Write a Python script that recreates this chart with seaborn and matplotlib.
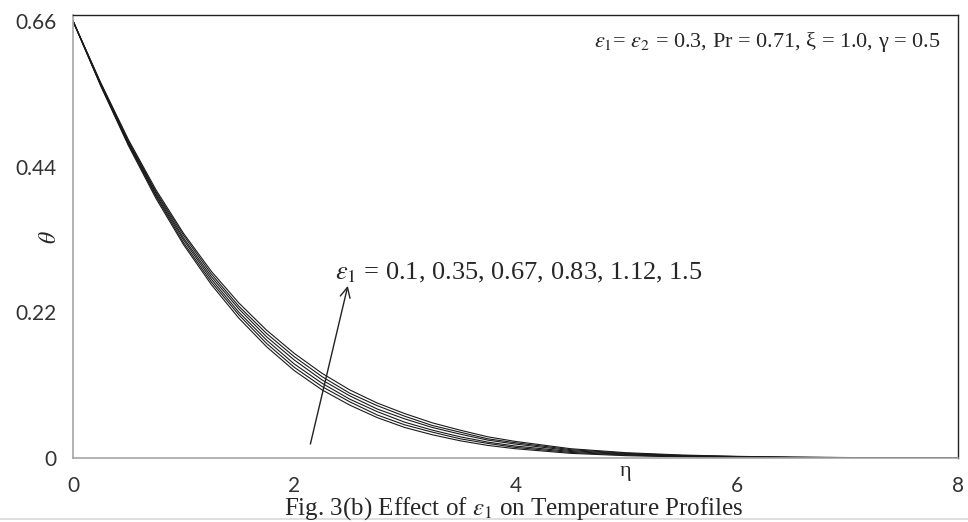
import numpy as np
import pandas as pd
import matplotlib
matplotlib.use("Agg")
import matplotlib.pyplot as plt
import seaborn as sns

# eta grid and temperature profiles
eta = [0, 0.25, 0.5, 0.75, 1.0, 1.25, 1.5, 1.75, 2.0, 2.25, 2.5, 2.75, 3.0,
       3.25, 3.5, 3.75, 4.0, 4.5, 5.0, 5.5, 6.0, 6.5, 7.0, 7.5, 8.0]

eps1_labels = ["0.1", "0.35", "0.67", "0.83", "1.12", "1.5"]

theta_010 = [0.660, 0.562, 0.472, 0.392, 0.322, 0.262, 0.211, 0.168, 0.132, 0.103, 0.080, 0.061, 0.046,
             0.035, 0.026, 0.019, 0.014, 0.0070, 0.0035, 0.0017, 0.0008, 0.0004, 0.0002, 0.0001, 0.0]
theta_035 = [0.660, 0.563, 0.474, 0.395, 0.325, 0.266, 0.216, 0.173, 0.137, 0.108, 0.085, 0.065, 0.050,
             0.039, 0.029, 0.022, 0.016, 0.0084, 0.0044, 0.0023, 0.0011, 0.0006, 0.0003, 0.0001, 0.0]
theta_067 = [0.660, 0.564, 0.476, 0.397, 0.329, 0.270, 0.220, 0.178, 0.142, 0.113, 0.089, 0.070, 0.054,
             0.042, 0.032, 0.024, 0.018, 0.0098, 0.0053, 0.0028, 0.0015, 0.0008, 0.0004, 0.0002, 0.0]
theta_083 = [0.660, 0.565, 0.477, 0.400, 0.332, 0.274, 0.225, 0.183, 0.148, 0.118, 0.094, 0.074, 0.059,
             0.046, 0.036, 0.027, 0.021, 0.0112, 0.0062, 0.0034, 0.0018, 0.0009, 0.0005, 0.0002, 0.0001]
theta_112 = [0.660, 0.566, 0.479, 0.402, 0.336, 0.278, 0.229, 0.188, 0.153, 0.123, 0.098, 0.079, 0.063,
             0.049, 0.039, 0.029, 0.023, 0.0126, 0.0071, 0.0039, 0.0022, 0.0011, 0.0006, 0.0003, 0.0001]
theta_150 = [0.660, 0.567, 0.481, 0.405, 0.339, 0.282, 0.234, 0.193, 0.158, 0.128, 0.103, 0.083, 0.067,
             0.053, 0.042, 0.032, 0.025, 0.0140, 0.0080, 0.0045, 0.0025, 0.0013, 0.0007, 0.0003, 0.0001]

series = [theta_010, theta_035, theta_067, theta_083, theta_112, theta_150]

rows = []
for lab, vals in zip(eps1_labels, series):
    for e, t in zip(eta, vals):
        rows.append({"eta": e, "theta": t, "eps1": lab})
df = pd.DataFrame(rows)

sns.set_theme(style="white")
plt.rcParams["mathtext.fontset"] = "stix"
plt.rcParams["font.family"] = ["Lato", "DejaVu Sans"]

fig = plt.figure(figsize=(9.68, 5.22), dpi=100)
ax = fig.add_axes([73 / 968, 1 - 458 / 522, 885 / 968, 443 / 522])

sns.lineplot(data=df, x="eta", y="theta", hue="eps1", units="eps1", estimator=None,
             palette=["#1a1a1a"] * 6, linewidth=0.8, legend=False, ax=ax)

ax.set_xlim(0, 8)
ax.set_ylim(0, 0.669)
ax.set_xticks([0, 2, 4, 6, 8])
ax.set_xticklabels(["0", "2", "4", "6", "8"])
ax.set_yticks([0, 0.22, 0.44, 0.66])
ax.set_yticklabels(["0", "0.22", "0.44", "0.66"])
ax.tick_params(axis="both", labelsize=15, colors="#a6a6a6", labelcolor="#333333",
               length=6, width=1, direction="out", pad=6)
ax.tick_params(axis="x", pad=7)

for side in ["left", "bottom"]:
    ax.spines[side].set_color("#a6a6a6")
    ax.spines[side].set_linewidth(1.2)
for side in ["top", "right"]:
    ax.spines[side].set_color("#222222")
    ax.spines[side].set_linewidth(1.0)
ax.set_axisbelow(True)

ax.set_xlabel("")
ax.set_ylabel("")
fig.text(50 / 968, 1 - 237 / 522, r"$\theta$", fontsize=17, rotation=90,
         ha="center", va="center")
ax.text(4.99, -0.006, "η", fontsize=16, ha="center", va="top",
        family="Liberation Serif")

serif = ["Liberation Serif", "DejaVu Serif"]
ax.text(7.84, 0.628, r"$\varepsilon_1$= $\varepsilon_2$ = 0.3, Pr = 0.71, ξ = 1.0, γ = 0.5",
        fontsize=16, ha="right", va="center", family=serif)
ax.text(2.37, 0.28, r"$\varepsilon_1$ = 0.1, 0.35, 0.67, 0.83, 1.12, 1.5",
        fontsize=19, ha="left", va="center", family=serif)
ax.annotate("", xy=(2.49, 0.264), xytext=(2.14, 0.017),
            arrowprops=dict(arrowstyle="->", color="#222222", lw=1.0,
                            mutation_scale=18))

fig.add_artist(plt.Line2D([0, 1], [1 - 519 / 522] * 2, color="#d9d9d9", lw=1.2))
fig.text(514 / 968, 1 - 509 / 522, r"Fig. 3(b) Effect of $\varepsilon_1$ on Temperature Profiles",
         fontsize=18, ha="center", va="center", family=serif)

fig.savefig("out.png", dpi=100)
